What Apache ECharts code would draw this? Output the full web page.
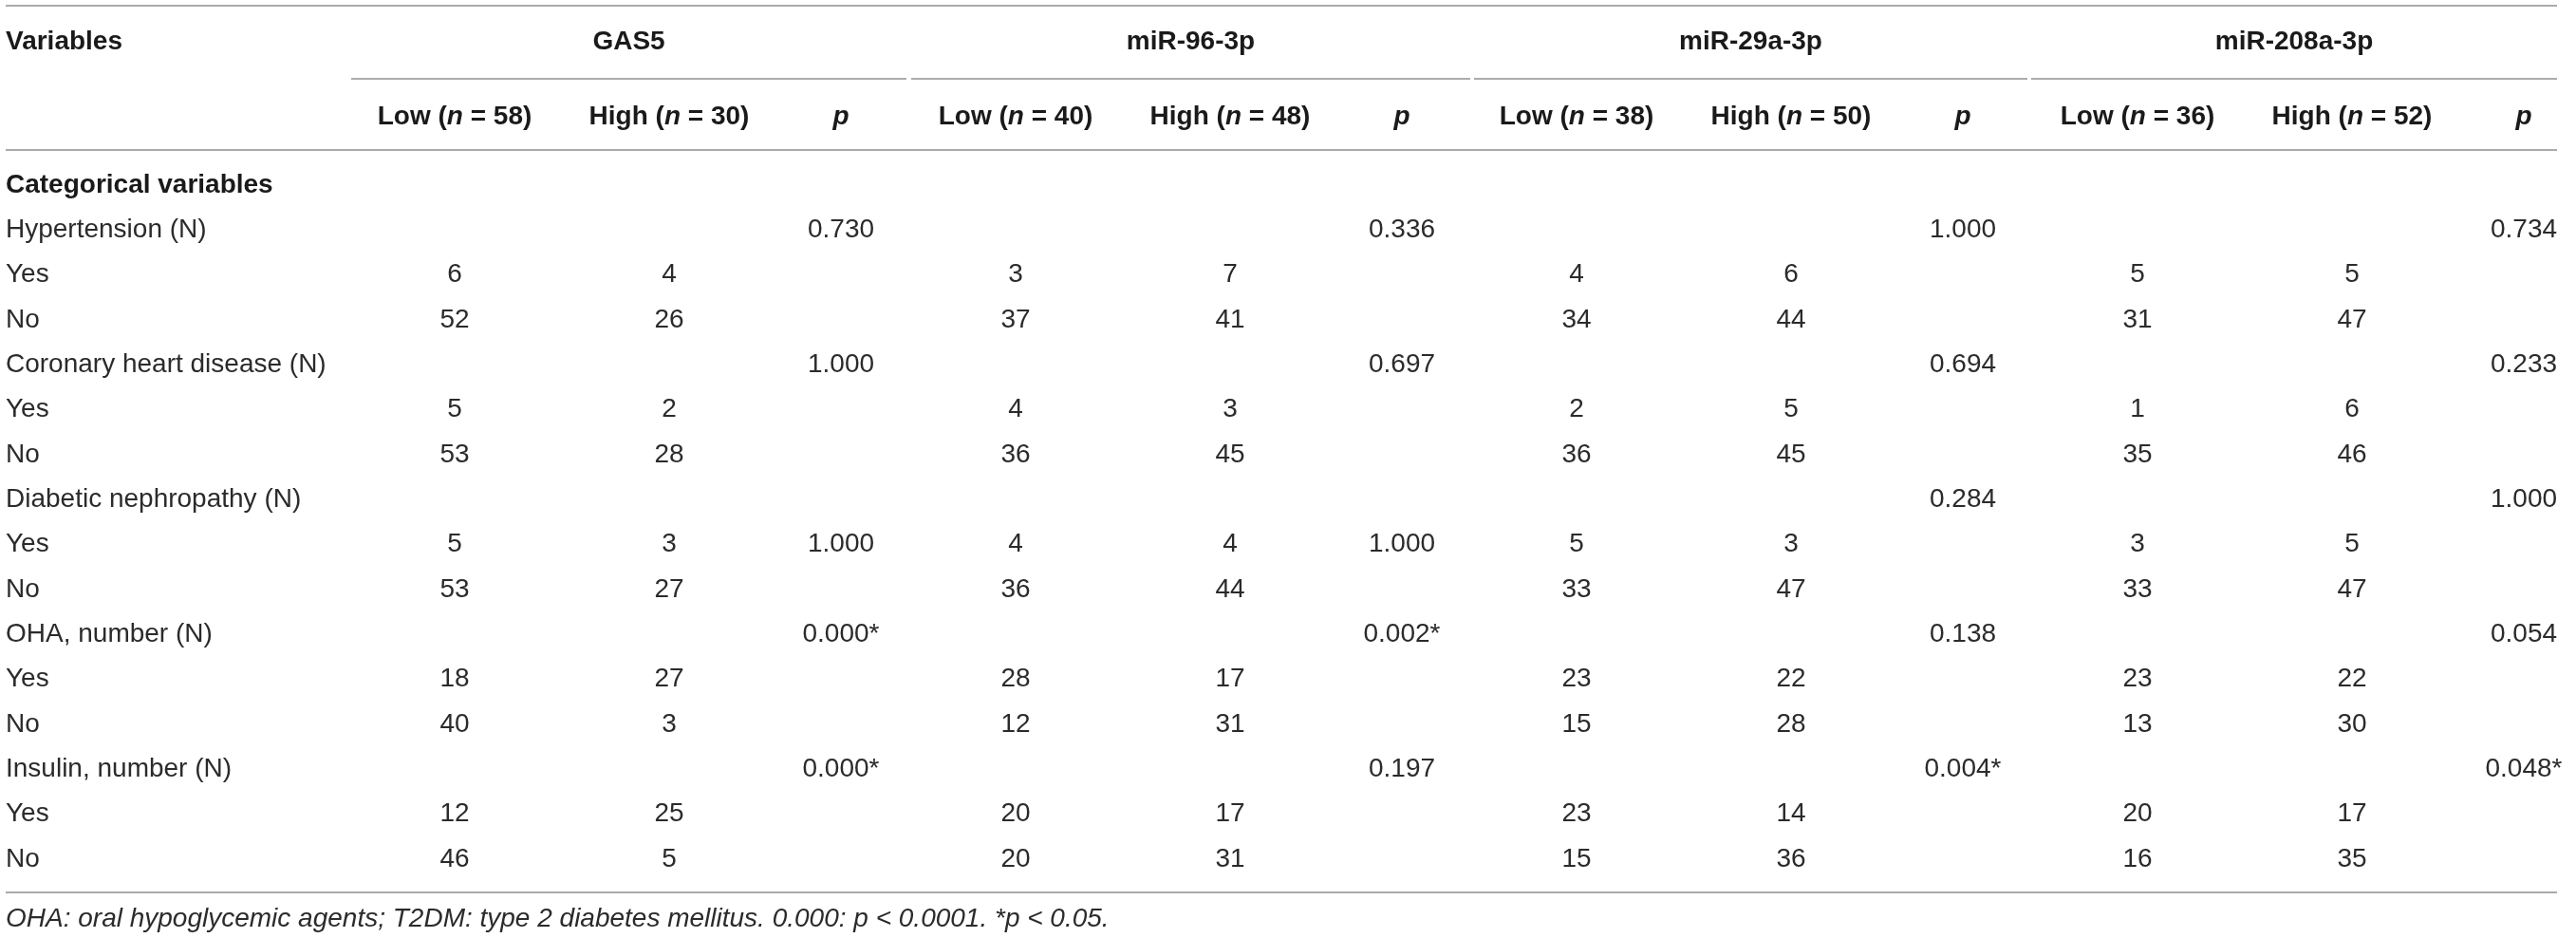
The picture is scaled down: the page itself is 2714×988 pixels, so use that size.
<!DOCTYPE html>
<html>
<head>
<meta charset="utf-8">
<script src="https://cdn.jsdelivr.net/npm/echarts@6/dist/echarts.min.js"></script>
<style>
  html, body { margin: 0; padding: 0; background: #fff; }
  #table { width: 2714px; height: 988px; }
</style>
</head>
<body>
<div id="table"></div>
<script>
// table data
var groups = ['GAS5', 'miR-96-3p', 'miR-29a-3p', 'miR-208a-3p'];
var nLow = [58, 40, 38, 36];
var nHigh = [30, 48, 50, 52];
var sectionTitle = 'Categorical variables';
var rowNames = ['Hypertension (N)', 'Yes', 'No',
    'Coronary heart disease (N)', 'Yes', 'No',
    'Diabetic nephropathy (N)', 'Yes', 'No',
    'OHA, number (N)', 'Yes', 'No',
    'Insulin, number (N)', 'Yes', 'No'];
var lowCounts = [
    [null, 6, 52, null, 5, 53, null, 5, 53, null, 18, 40, null, 12, 46],
    [null, 3, 37, null, 4, 36, null, 4, 36, null, 28, 12, null, 20, 20],
    [null, 4, 34, null, 2, 36, null, 5, 33, null, 23, 15, null, 23, 15],
    [null, 5, 31, null, 1, 35, null, 3, 33, null, 23, 13, null, 20, 16]
];
var highCounts = [
    [null, 4, 26, null, 2, 28, null, 3, 27, null, 27, 3, null, 25, 5],
    [null, 7, 41, null, 3, 45, null, 4, 44, null, 17, 31, null, 17, 31],
    [null, 6, 44, null, 5, 45, null, 3, 47, null, 22, 28, null, 14, 36],
    [null, 5, 47, null, 6, 46, null, 5, 47, null, 22, 30, null, 17, 35]
];
var pValues = [
    ['0.730', null, null, '1.000', null, null, null, '1.000', null, '0.000*', null, null, '0.000*', null, null],
    ['0.336', null, null, '0.697', null, null, null, '1.000', null, '0.002*', null, null, '0.197', null, null],
    ['1.000', null, null, '0.694', null, null, '0.284', null, null, '0.138', null, null, '0.004*', null, null],
    ['0.734', null, null, '0.233', null, null, '1.000', null, null, '0.054', null, null, '0.048*', null, null]
];

// layout (pixel units of the hidden axes)
var W = 2714, H = 988;
var leftX = 6, rightX = 2694;
var groupStep = 591;
var lowX = 479, highX = 705, pX = 886;
var spanStart = [370, 960, 1553, 2140];
var spanEnd = [955, 1549, 2136, 2694];
var topLineY = 6, titleY = 44, subLineY = 83, subTitleY = 123, headLineY = 158;
var firstRowY = 195, rowPitch = 47.33, bottomLineY = 940, footY = 968;

var FONT = 'Liberation Sans, Arial, sans-serif';
var textColor = '#2b2b2b';
var headColor = '#1a1a1a';
var lineColor = '#ababab';

var cells = [];
function addCell(x, y, text, opt) {
    opt = opt || {};
    cells.push({
        x: x, y: y, text: text,
        align: opt.align || 'center',
        weight: opt.weight || 'normal',
        style: opt.style || 'normal',
        rich: opt.rich
    });
}

var headRich = {
    b: { fontFamily: FONT, fontSize: 28, fontWeight: 'bold', fill: headColor },
    i: { fontFamily: FONT, fontSize: 28, fontWeight: 'bold', fontStyle: 'italic', fill: headColor }
};

// header
addCell(leftX, titleY, 'Variables', { align: 'left', weight: 'bold' });
groups.forEach(function (g, k) {
    addCell((spanStart[k] + spanEnd[k]) / 2, titleY, g, { weight: 'bold' });
    addCell(lowX + k * groupStep, subTitleY, '{b|Low (}{i|n}{b| = ' + nLow[k] + ')}', { rich: true });
    addCell(highX + k * groupStep, subTitleY, '{b|High (}{i|n}{b| = ' + nHigh[k] + ')}', { rich: true });
    addCell(pX + k * groupStep, subTitleY, '{i|p}', { rich: true });
});

// body
addCell(leftX, firstRowY, sectionTitle, { align: 'left', weight: 'bold' });
rowNames.forEach(function (name, r) {
    var y = firstRowY + (r + 1) * rowPitch;
    addCell(leftX, y, name, { align: 'left' });
    groups.forEach(function (g, k) {
        if (lowCounts[k][r] != null) addCell(lowX + k * groupStep, y, String(lowCounts[k][r]));
        if (highCounts[k][r] != null) addCell(highX + k * groupStep, y, String(highCounts[k][r]));
        if (pValues[k][r] != null) addCell(pX + k * groupStep, y, pValues[k][r]);
    });
});

// footnote
addCell(leftX, footY, 'OHA: oral hypoglycemic agents; T2DM: type 2 diabetes mellitus. 0.000: p < 0.0001. *p < 0.05.',
    { align: 'left', style: 'italic' });

// rules
var rules = [[leftX, rightX, topLineY], [leftX, rightX, headLineY], [leftX, rightX, bottomLineY]];
spanStart.forEach(function (s, k) { rules.push([s, spanEnd[k], subLineY]); });

var myChart = echarts.init(document.getElementById('table'));
var option = {
    animation: false,
    grid: { left: 0, right: 0, top: 0, bottom: 0 },
    xAxis: { type: 'value', min: 0, max: W, show: false },
    yAxis: { type: 'value', min: 0, max: H, inverse: true, show: false },
    series: [
        {
            type: 'custom',
            data: rules,
            renderItem: function (params, api) {
                var a = api.coord([api.value(0), api.value(2)]);
                var b = api.coord([api.value(1), api.value(2)]);
                return {
                    type: 'line',
                    shape: { x1: a[0], y1: a[1], x2: b[0], y2: b[1] },
                    style: { stroke: lineColor, lineWidth: 2 }
                };
            }
        },
        {
            type: 'custom',
            data: cells.map(function (c) { return [c.x, c.y]; }),
            renderItem: function (params, api) {
                var c = cells[params.dataIndex];
                var pt = api.coord([api.value(0), api.value(1)]);
                var st = {
                    text: c.text,
                    fontFamily: FONT,
                    fontSize: 28,
                    fontWeight: c.weight,
                    fontStyle: c.style,
                    fill: c.weight === 'bold' ? headColor : textColor,
                    align: c.align,
                    verticalAlign: 'middle'
                };
                if (c.rich) st.rich = headRich;
                return { type: 'text', x: pt[0], y: pt[1], style: st };
            }
        }
    ]
};
myChart.setOption(option);
</script>
</body>
</html>
